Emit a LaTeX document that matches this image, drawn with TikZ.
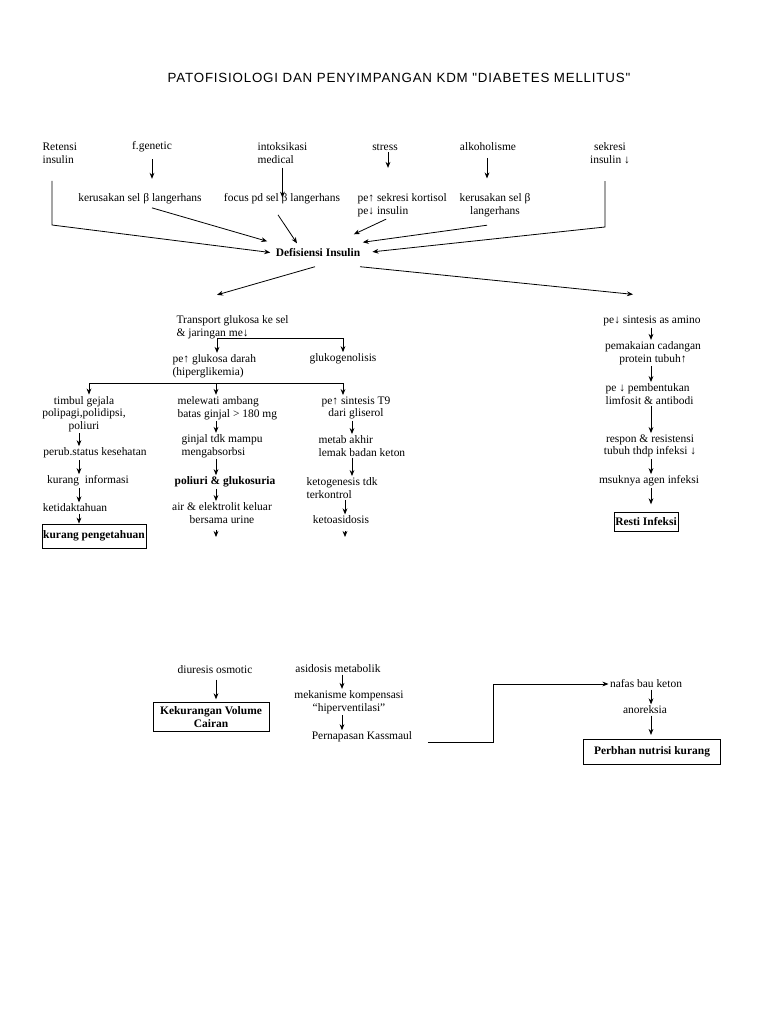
\documentclass[tikz,border=0pt]{standalone}
\usepackage{fontspec}
\setmainfont{Liberation Serif}
\newfontfamily\titlefont[LetterSpace=6]{Liberation Sans}
\usetikzlibrary{arrows.meta, positioning, calc}
\tikzset{
    % Plain text steps
    txt/.style={ inner sep=1pt, font=\fontsize{8.6}{9.5}\selectfont, align=center },
    txtl/.style={ txt, align=left, anchor=west },
    % Bold steps and boxed outcomes
    bold/.style={ txt, font=\fontsize{8.6}{9.5}\selectfont\bfseries },
    outcome/.style={ bold, draw, line width=0.6pt, inner sep=0pt },
    arrow/.style={ -{Stealth[length=4.5pt, width=3.6pt]}, line width=0.6pt },
    link/.style={ line width=0.6pt },
}

\begin{document}
\begin{tikzpicture}[x=0.75pt, y=-0.75pt]
    \fill[white] (0,0) rectangle (768,1024);
    \node[font=\titlefont\fontsize{10}{12}\selectfont] (title) at (399,78) {PATOFISIOLOGI DAN PENYIMPANGAN KDM "DIABETES MELLITUS"};

    % Causes
    \node[txtl] (retensi) at (41,153) {Retensi\\insulin};
    \node[txt] (genetic) at (152,147) {f.genetic};
    \node[txt] (kerusakan-a) at (140,199) {kerusakan sel β langerhans};
    \node[txtl] (intoksikasi) at (256,153) {intoksikasi\\medical};
    \node[txt] (focus) at (282,199) {focus pd sel β langerhans};
    \node[txt] (stress) at (385,147) {stress};
    \node[txtl] (kortisol) at (356,205) {pe↑ sekresi kortisol\\pe↓ insulin};
    \node[txt] (alkohol) at (488,147) {alkoholisme};
    \node[txt] (kerusakan-b) at (495,205) {kerusakan sel β\\langerhans};
    \node[txt] (sekresi) at (610,153) {sekresi\\insulin ↓};
    \node[bold] (defisiensi) at (318,253) {Defisiensi Insulin};
    \coordinate (retensi-bend) at (52,225);
    \coordinate (sekresi-bend) at (605,227);
    \coordinate (stress-x) at (388,0);
    \coordinate (alkohol-x) at (487,0);

    \draw[arrow, shorten <=4pt, shorten >=10pt] (genetic.south) -- (genetic.south |- kerusakan-a.north);
    \draw[arrow, shorten <=2pt, shorten >=1pt] (intoksikasi.south) -- (intoksikasi.south |- focus.center);
    \draw[arrow, shorten >=18pt] (stress.south -| stress-x) -- (kortisol.north -| stress-x);
    \draw[arrow, shorten <=4pt, shorten >=10pt] (alkohol.south -| alkohol-x) -- (kerusakan-b.north -| alkohol-x);
    \draw[arrow, shorten <=12pt, shorten >=3pt] (retensi.south -| retensi-bend) -- (retensi-bend) -- (defisiensi.west);
    \draw[arrow] ([shift={(12,2)}]kerusakan-a.south) -- ([shift={(-7,-6)}]defisiensi.north west);
    \draw[arrow] ([shift={(-4,9)}]focus.south) -- ([shift={(-21,-4)}]defisiensi.north);
    \draw[arrow] ([shift={(-16,1)}]kortisol.south) -- ([shift={(-8,-13)}]defisiensi.north east);
    \draw[arrow] ([shift={(-8,7)}]kerusakan-b.south) -- ([shift={(1,-5)}]defisiensi.north east);
    \draw[arrow, shorten <=12pt, shorten >=8pt] (sekresi.south -| sekresi-bend) -- (sekresi-bend) -- (defisiensi.east);

    % Left branch
    \node[txtl] (transport) at (175,327) {Transport glukosa ke sel\\\& jaringan me↓};
    \node[txtl] (glukosa) at (171,366) {pe↑ glukosa darah\\(hiperglikemia)};
    \node[txt] (gluko) at (343,359) {glukogenolisis};
    \coordinate (transport-split) at (217,338);
    \draw[arrow] ([shift={(-3,8)}]defisiensi.south) -- ([shift={(42,-19)}]transport.north west);
    \draw[arrow] (transport-split) -- (transport-split |- glukosa.north);
    \draw[arrow] (transport-split) -| (gluko.north);

    \coordinate (bus-left) at (89,383);
    \coordinate (bus-mid) at (216,383);
    \coordinate (bus-right) at (343,383);
    \coordinate (col-a) at (79,0);
    \coordinate (col-b) at (216,0);
    \coordinate (col-c) at (352,0);
    \coordinate (col-d) at (651,0);
    \coordinate (col-e) at (342,0);

    \node[txt] (timbul) at (84,414) {timbul gejala\\polipagi,polidipsi,\\poliuri};
    \node[txt] (perub) at (95,453) {perub.status kesehatan};
    \node[txt] (informasi) at (88,481) {kurang\ \ informasi};
    \node[txt] (ketidaktahuan) at (75,508) {ketidaktahuan};
    \node[outcome, minimum width=78pt, minimum height=18pt] (pengetahuan) at (94,536) {kurang pengetahuan};

    \node[txtl] (melewati) at (176,408) {melewati ambang\\batas ginjal > 180 mg};
    \node[txtl] (ginjal) at (180,446) {ginjal tdk mampu\\mengabsorbsi};
    \node[bold] (glukosuria) at (225,482) {poliuri \& glukosuria};
    \node[txt] (elektrolit) at (222,513) {air \& elektrolit keluar\\bersama urine};
    \coordinate (elektrolit-end) at (216,537);

    \node[txt] (sintesis) at (356,408) {pe↑ sintesis T9\\dari gliserol};
    \node[txtl] (metab) at (317,446) {metab akhir\\lemak badan keton};
    \node[txtl] (ketogenesis) at (305,488) {ketogenesis tdk\\terkontrol};
    \node[txt] (ketoasidosis) at (341,520) {ketoasidosis};
    \coordinate (ketoasidosis-end) at (345,537);

    \draw[link] (bus-left) -- (bus-right);
    \draw[arrow] (bus-left) -- (bus-left |- timbul.north);
    \draw[arrow] (bus-mid) -- (bus-mid |- melewati.north);
    \draw[arrow] (bus-right) -- (bus-right |- sintesis.north);

    \draw[arrow] (timbul.south -| col-a) -- (perub.north -| col-a);
    \draw[arrow] (perub.south -| col-a) -- (informasi.north -| col-a);
    \draw[arrow] (informasi.south -| col-a) -- (ketidaktahuan.north -| col-a);
    \draw[arrow] (ketidaktahuan.south -| col-a) -- (pengetahuan.north -| col-a);

    \draw[arrow] (melewati.south -| col-b) -- (ginjal.north -| col-b);
    \draw[arrow] (ginjal.south -| col-b) -- (glukosuria.north -| col-b);
    \draw[arrow] (glukosuria.south -| col-b) -- (elektrolit.north -| col-b);
    \draw[arrow, shorten <=4pt] (elektrolit.south -| elektrolit-end) -- (elektrolit-end);

    \draw[arrow] (sintesis.south -| col-c) -- (metab.north -| col-c);
    \draw[arrow] (metab.south -| col-c) -- (ketogenesis.north -| col-c);
    \draw[arrow] (ketogenesis.south -| ketoasidosis-end) -- (ketoasidosis.north -| ketoasidosis-end);
    \draw[arrow, shorten <=4pt] (ketoasidosis.south -| ketoasidosis-end) -- (ketoasidosis-end);

    % Right branch
    \node[txt] (amino) at (652,321) {pe↓ sintesis as amino};
    \node[txt] (cadangan) at (653,353) {pemakaian cadangan\\protein tubuh↑};
    \node[txtl] (limfosit) at (604,394) {pe ↓ pembentukan\\limfosit \& antibodi};
    \node[txt] (respon) at (650,446) {respon \& resistensi\\tubuh thdp infeksi ↓};
    \node[txt] (agen) at (649,481) {msuknya agen infeksi};
    \node[outcome, minimum width=48pt, minimum height=14pt] (resti) at (646,522) {Resti Infeksi};
    \draw[arrow] ([shift={(42,8)}]defisiensi.south) -- ([shift={(-19,-20)}]amino.north);
    \draw[arrow] (amino.south -| col-d) -- (cadangan.north -| col-d);
    \draw[arrow] (cadangan.south -| col-d) -- (limfosit.north -| col-d);
    \draw[arrow] (limfosit.south -| col-d) -- (respon.north -| col-d);
    \draw[arrow] (respon.south -| col-d) -- (agen.north -| col-d);
    \draw[arrow, shorten >=6pt] (agen.south -| col-d) -- (resti.north -| col-d);

    % Lower outcomes
    \node[txt] (diuresis) at (215,670) {diuresis osmotic};
    \node[outcome, align=center, minimum width=87pt, minimum height=22pt] (volume) at (211,717) {Kekurangan Volume\\Cairan};
    \node[txt] (asidosis) at (338,669) {asidosis metabolik};
    \node[txt] (mekanisme) at (349,702) {mekanisme kompensasi\\“hiperventilasi”};
    \node[txt] (pernapasan) at (362,737) {Pernapasan Kassmaul};
    \node[txt] (nafas) at (646,684) {nafas bau keton};
    \node[txt] (anoreksia) at (645,710) {anoreksia};
    \node[outcome, minimum width=103pt, minimum height=19pt] (nutrisi) at (652,752) {Perbhan nutrisi kurang};
    \coordinate (elbow) at (493,742);

    \draw[arrow, shorten <=3pt, shorten >=2pt] (diuresis.south -| col-b) -- (volume.north -| col-b);
    \draw[arrow] (asidosis.south -| col-e) -- (mekanisme.north -| col-e);
    \draw[arrow] (mekanisme.south -| col-e) -- (pernapasan.north -| col-e);
    \draw[arrow] ([shift={(14,5)}]pernapasan.east) -- (elbow) |- (nafas.west);
    \draw[arrow] (nafas.south -| col-d) -- (anoreksia.north -| col-d);
    \draw[arrow, shorten >=3pt] (anoreksia.south -| col-d) -- (nutrisi.north -| col-d);
\end{tikzpicture}
\end{document}
